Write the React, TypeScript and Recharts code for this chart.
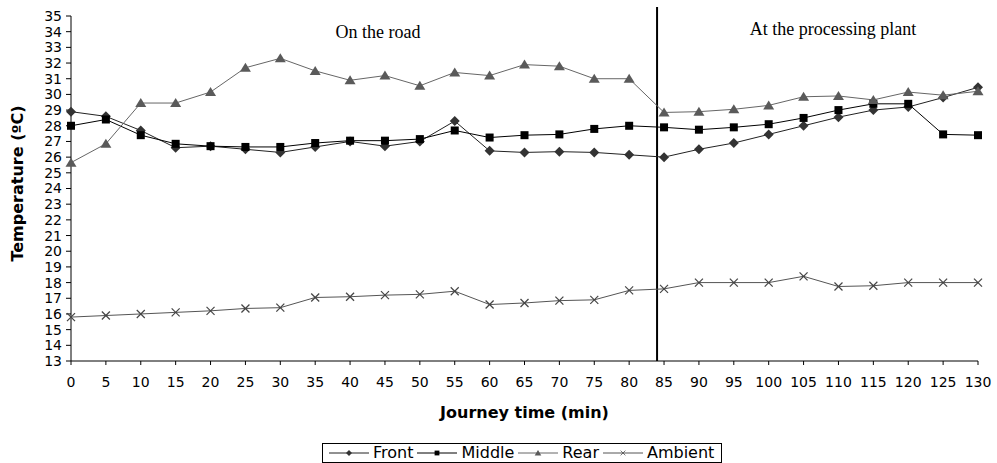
import { LineChart, Line, XAxis, YAxis, ReferenceLine } from 'recharts'

const times = [0, 5, 10, 15, 20, 25, 30, 35, 40, 45, 50, 55, 60, 65, 70, 75, 80, 85, 90, 95, 100, 105, 110, 115, 120, 125, 130]
const front = [28.9, 28.6, 27.7, 26.6, 26.7, 26.5, 26.3, 26.65, 27.0, 26.7, 27.0, 28.3, 26.4, 26.3, 26.35, 26.3, 26.15, 26.0, 26.5, 26.9, 27.45, 28.0, 28.55, 29.0, 29.2, 29.8, 30.45]
const middle = [28.0, 28.4, 27.4, 26.85, 26.7, 26.65, 26.65, 26.9, 27.05, 27.05, 27.15, 27.7, 27.25, 27.4, 27.45, 27.8, 28.0, 27.9, 27.75, 27.9, 28.1, 28.5, 29.0, 29.4, 29.4, 27.45, 27.4]
const rear = [25.65, 26.85, 29.45, 29.45, 30.15, 31.7, 32.3, 31.5, 30.9, 31.2, 30.55, 31.4, 31.2, 31.9, 31.8, 31.0, 31.0, 28.85, 28.9, 29.05, 29.3, 29.85, 29.9, 29.65, 30.15, 29.95, 30.2]
const ambient = [15.8, 15.9, 16.0, 16.1, 16.2, 16.35, 16.4, 17.05, 17.1, 17.2, 17.25, 17.45, 16.6, 16.7, 16.85, 16.9, 17.5, 17.6, 18.0, 18.0, 18.0, 18.4, 17.75, 17.8, 18.0, 18.0, 18.0]

const yTicks = [13, 14, 15, 16, 17, 18, 19, 20, 21, 22, 23, 24, 25, 26, 27, 28, 29, 30, 31, 32, 33, 34, 35]
const switchTime = 84

const data = times.map((t, i) => ({ t, front: front[i], middle: middle[i], rear: rear[i], ambient: ambient[i] }))

const SANS = 'DejaVu Sans'

function Diamond({ cx, cy }: { cx: number; cy: number }) {
  return <polygon points={`${cx},${cy - 5} ${cx + 5},${cy} ${cx},${cy + 5} ${cx - 5},${cy}`} fill="#333" />
}
function Square({ cx, cy }: { cx: number; cy: number }) {
  return <rect x={cx - 4} y={cy - 4} width={8} height={8} fill="#000" />
}
function Triangle({ cx, cy }: { cx: number; cy: number }) {
  return <polygon points={`${cx},${cy - 5} ${cx + 5.5},${cy + 4} ${cx - 5.5},${cy + 4}`} fill="#5a5a5a" />
}
function Cross({ cx, cy }: { cx: number; cy: number }) {
  return (
    <g stroke="#444" strokeWidth={1.2}>
      <line x1={cx - 4} y1={cy - 4} x2={cx + 4} y2={cy + 4} />
      <line x1={cx - 4} y1={cy + 4} x2={cx + 4} y2={cy - 4} />
    </g>
  )
}

const series = [
  { key: 'front', name: 'Front', color: '#222', Marker: Diamond },
  { key: 'middle', name: 'Middle', color: '#000', Marker: Square },
  { key: 'rear', name: 'Rear', color: '#666', Marker: Triangle },
  { key: 'ambient', name: 'Ambient', color: '#555', Marker: Cross },
]

function LegendBox() {
  return (
    <div
      style={{
        position: 'absolute',
        left: 322,
        top: 443,
        width: 400,
        height: 20,
        boxSizing: 'border-box',
        border: '1px solid #000',
        display: 'flex',
        alignItems: 'center',
        paddingLeft: 5,
        fontFamily: SANS,
        fontSize: 16,
        lineHeight: '18px',
        whiteSpace: 'nowrap',
      }}
    >
      {series.map(({ key, name, color, Marker }) => (
        <div key={key} style={{ display: 'flex', alignItems: 'center', marginRight: 3 }}>
          <svg width={42} height={12}>
            <line x1={1} y1={6} x2={41} y2={6} stroke={color} strokeWidth={1} />
            <g transform="translate(21,6) scale(0.6) translate(-21,-6)">
              <Marker cx={21} cy={6} />
            </g>
          </svg>
          <span style={{ marginLeft: 3 }}>{name}</span>
        </div>
      ))}
    </div>
  )
}

export default function App() {
  return (
    <div style={{ position: 'fixed', left: 0, top: 0, width: 997, height: 463, background: '#fff' }}>
      <LineChart width={997} height={463} data={data} margin={{ top: 16, right: 19, left: 0, bottom: 42 }}>
        <XAxis
          dataKey="t"
          type="number"
          domain={[0, 130]}
          ticks={times}
          interval={0}
          height={60}
          tickSize={4}
          tickMargin={12}
          tick={{ fill: '#000', fontSize: 14, fontFamily: SANS }}
          axisLine={{ stroke: '#000' }}
          tickLine={{ stroke: '#000' }}
          label={{
            content: ({ viewBox }: any) => (
              <text
                x={viewBox.x + viewBox.width / 2}
                y={418}
                textAnchor="middle"
                fontFamily={SANS}
                fontWeight="bold"
                fontSize={16}
                fill="#000"
              >
                Journey time (min)
              </text>
            ),
          }}
        />
        <YAxis
          type="number"
          domain={[13, 35]}
          ticks={yTicks}
          interval={0}
          width={71}
          tickSize={5}
          tickMargin={4}
          tick={{ fill: '#000', fontSize: 14, fontFamily: SANS }}
          axisLine={{ stroke: '#000' }}
          tickLine={{ stroke: '#000' }}
          label={{
            content: ({ viewBox }: any) => {
              const x = 23
              const y = viewBox.y + viewBox.height / 2 - 5
              return (
                <text
                  x={x}
                  y={y}
                  transform={`rotate(-90, ${x}, ${y})`}
                  textAnchor="middle"
                  fontFamily={SANS}
                  fontWeight="bold"
                  fontSize={16}
                  fill="#000"
                >
                  Temperature (ºC)
                </text>
              )
            },
          }}
        />
        <ReferenceLine
          segment={[
            { x: switchTime, y: 13 },
            { x: switchTime, y: 35.57 },
          ]}
          ifOverflow="visible"
          stroke="#000"
          strokeWidth={2}
        />
        {series.map(({ key, name, color, Marker }) => (
          <Line
            key={key}
            dataKey={key}
            name={name}
            stroke={color}
            strokeWidth={1}
            isAnimationActive={false}
            dot={(p: any) => <Marker key={`${key}-${p.index}`} cx={p.cx} cy={p.cy} />}
            activeDot={false}
          />
        ))}
      </LineChart>
      <div
        style={{
          position: 'absolute',
          left: 378,
          top: 23,
          transform: 'translateX(-50%)',
          fontFamily: 'Liberation Serif',
          fontSize: 18,
          lineHeight: '18px',
          whiteSpace: 'nowrap',
        }}
      >
        On the road
      </div>
      <div
        style={{
          position: 'absolute',
          left: 833,
          top: 20,
          transform: 'translateX(-50%)',
          fontFamily: 'Liberation Serif',
          fontSize: 18,
          lineHeight: '18px',
          whiteSpace: 'nowrap',
        }}
      >
        At the processing plant
      </div>
      <LegendBox />
    </div>
  )
}
